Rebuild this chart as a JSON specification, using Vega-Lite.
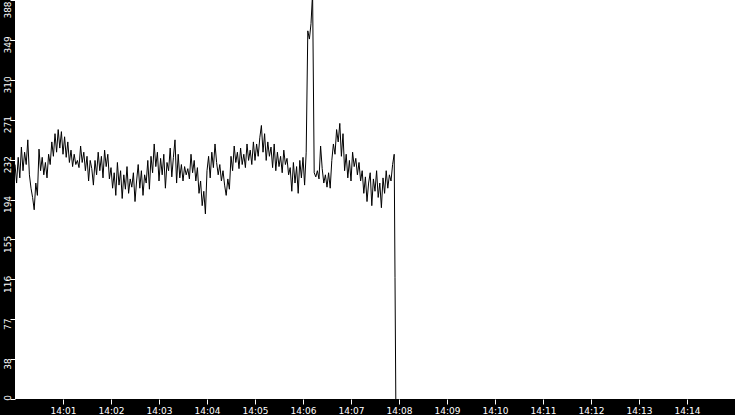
{
  "$schema": "https://vega.github.io/schema/vega-lite/v6.json",
  "width": 720,
  "height": 399,
  "autosize": {"type": "none"},
  "padding": {"left": 15, "top": 0, "right": 0, "bottom": 16},
  "background": "black",
  "config": {
    "view": {"fill": "white", "stroke": null},
    "axis": {
      "labelColor": "white",
      "tickColor": "white",
      "tickSize": 5,
      "tickWidth": 1,
      "domain": false,
      "grid": false,
      "labelFont": "DejaVu Sans",
      "labelFontSize": 9,
      "title": null
    }
  },
  "data": {
    "format": {"parse": {"t": "date:'%H:%M:%S'"}},
    "values": [
      {"t":"14:00:00","v":228},{"t":"14:00:02","v":210},{"t":"14:00:04","v":235},{"t":"14:00:06","v":215},{"t":"14:00:08","v":245},
      {"t":"14:00:10","v":222},{"t":"14:00:12","v":240},{"t":"14:00:14","v":228},{"t":"14:00:16","v":252},{"t":"14:00:18","v":218},
      {"t":"14:00:20","v":205},{"t":"14:00:22","v":196},{"t":"14:00:24","v":184},{"t":"14:00:26","v":210},{"t":"14:00:28","v":198},
      {"t":"14:00:30","v":243},{"t":"14:00:32","v":222},{"t":"14:00:34","v":235},{"t":"14:00:36","v":218},{"t":"14:00:38","v":230},
      {"t":"14:00:40","v":215},{"t":"14:00:42","v":238},{"t":"14:00:44","v":228},{"t":"14:00:46","v":250},{"t":"14:00:48","v":236},
      {"t":"14:00:50","v":258},{"t":"14:00:52","v":240},{"t":"14:00:54","v":262},{"t":"14:00:56","v":244},{"t":"14:00:58","v":260},
      {"t":"14:01:00","v":238},{"t":"14:01:02","v":255},{"t":"14:01:04","v":235},{"t":"14:01:06","v":250},{"t":"14:01:08","v":230},
      {"t":"14:01:10","v":242},{"t":"14:01:12","v":226},{"t":"14:01:14","v":238},{"t":"14:01:16","v":228},{"t":"14:01:18","v":232},
      {"t":"14:01:20","v":225},{"t":"14:01:22","v":246},{"t":"14:01:24","v":230},{"t":"14:01:26","v":240},{"t":"14:01:28","v":222},
      {"t":"14:01:30","v":236},{"t":"14:01:32","v":212},{"t":"14:01:34","v":232},{"t":"14:01:36","v":224},{"t":"14:01:38","v":208},
      {"t":"14:01:40","v":232},{"t":"14:01:42","v":218},{"t":"14:01:44","v":240},{"t":"14:01:46","v":222},{"t":"14:01:48","v":236},
      {"t":"14:01:50","v":215},{"t":"14:01:52","v":242},{"t":"14:01:54","v":226},{"t":"14:01:56","v":238},{"t":"14:01:58","v":214},
      {"t":"14:02:00","v":225},{"t":"14:02:02","v":205},{"t":"14:02:04","v":220},{"t":"14:02:06","v":198},{"t":"14:02:08","v":230},
      {"t":"14:02:10","v":208},{"t":"14:02:12","v":222},{"t":"14:02:14","v":195},{"t":"14:02:16","v":218},{"t":"14:02:18","v":204},
      {"t":"14:02:20","v":226},{"t":"14:02:22","v":200},{"t":"14:02:24","v":214},{"t":"14:02:26","v":206},{"t":"14:02:28","v":220},
      {"t":"14:02:30","v":192},{"t":"14:02:32","v":212},{"t":"14:02:34","v":228},{"t":"14:02:36","v":205},{"t":"14:02:38","v":222},
      {"t":"14:02:40","v":198},{"t":"14:02:42","v":218},{"t":"14:02:44","v":210},{"t":"14:02:46","v":232},{"t":"14:02:48","v":204},
      {"t":"14:02:50","v":236},{"t":"14:02:52","v":220},{"t":"14:02:54","v":248},{"t":"14:02:56","v":226},{"t":"14:02:58","v":240},
      {"t":"14:03:00","v":212},{"t":"14:03:02","v":234},{"t":"14:03:04","v":218},{"t":"14:03:06","v":238},{"t":"14:03:08","v":205},
      {"t":"14:03:10","v":230},{"t":"14:03:12","v":222},{"t":"14:03:14","v":244},{"t":"14:03:16","v":216},{"t":"14:03:18","v":235},
      {"t":"14:03:20","v":252},{"t":"14:03:22","v":210},{"t":"14:03:24","v":238},{"t":"14:03:26","v":215},{"t":"14:03:28","v":228},
      {"t":"14:03:30","v":212},{"t":"14:03:32","v":226},{"t":"14:03:34","v":218},{"t":"14:03:36","v":224},{"t":"14:03:38","v":214},
      {"t":"14:03:40","v":238},{"t":"14:03:42","v":220},{"t":"14:03:44","v":232},{"t":"14:03:46","v":212},{"t":"14:03:48","v":225},
      {"t":"14:03:50","v":200},{"t":"14:03:52","v":212},{"t":"14:03:54","v":188},{"t":"14:03:56","v":202},{"t":"14:03:58","v":180},
      {"t":"14:04:00","v":222},{"t":"14:04:02","v":236},{"t":"14:04:04","v":215},{"t":"14:04:06","v":240},{"t":"14:04:08","v":225},
      {"t":"14:04:10","v":248},{"t":"14:04:12","v":230},{"t":"14:04:14","v":218},{"t":"14:04:16","v":228},{"t":"14:04:18","v":212},
      {"t":"14:04:20","v":222},{"t":"14:04:22","v":208},{"t":"14:04:24","v":198},{"t":"14:04:26","v":214},{"t":"14:04:28","v":204},
      {"t":"14:04:30","v":236},{"t":"14:04:32","v":222},{"t":"14:04:34","v":246},{"t":"14:04:36","v":230},{"t":"14:04:38","v":240},
      {"t":"14:04:40","v":224},{"t":"14:04:42","v":244},{"t":"14:04:44","v":228},{"t":"14:04:46","v":238},{"t":"14:04:48","v":225},
      {"t":"14:04:50","v":248},{"t":"14:04:52","v":232},{"t":"14:04:54","v":242},{"t":"14:04:56","v":228},{"t":"14:04:58","v":250},
      {"t":"14:05:00","v":232},{"t":"14:05:02","v":248},{"t":"14:05:04","v":236},{"t":"14:05:06","v":254},{"t":"14:05:08","v":266},
      {"t":"14:05:10","v":240},{"t":"14:05:12","v":258},{"t":"14:05:14","v":232},{"t":"14:05:16","v":250},{"t":"14:05:18","v":236},
      {"t":"14:05:20","v":245},{"t":"14:05:22","v":225},{"t":"14:05:24","v":248},{"t":"14:05:26","v":222},{"t":"14:05:28","v":240},
      {"t":"14:05:30","v":226},{"t":"14:05:32","v":236},{"t":"14:05:34","v":220},{"t":"14:05:36","v":242},{"t":"14:05:38","v":228},
      {"t":"14:05:40","v":234},{"t":"14:05:42","v":218},{"t":"14:05:44","v":225},{"t":"14:05:46","v":202},{"t":"14:05:48","v":230},
      {"t":"14:05:50","v":210},{"t":"14:05:52","v":226},{"t":"14:05:54","v":200},{"t":"14:05:56","v":232},{"t":"14:05:58","v":215},
      {"t":"14:06:00","v":235},{"t":"14:06:02","v":208},{"t":"14:06:04","v":240},{"t":"14:06:06","v":358},{"t":"14:06:08","v":350},
      {"t":"14:06:10","v":365},{"t":"14:06:12","v":395},{"t":"14:06:14","v":220},{"t":"14:06:16","v":216},{"t":"14:06:18","v":222},
      {"t":"14:06:20","v":214},{"t":"14:06:22","v":246},{"t":"14:06:24","v":224},{"t":"14:06:26","v":210},{"t":"14:06:28","v":218},
      {"t":"14:06:30","v":206},{"t":"14:06:32","v":220},{"t":"14:06:34","v":205},{"t":"14:06:36","v":232},{"t":"14:06:38","v":248},
      {"t":"14:06:40","v":238},{"t":"14:06:42","v":262},{"t":"14:06:44","v":250},{"t":"14:06:46","v":268},{"t":"14:06:48","v":236},
      {"t":"14:06:50","v":258},{"t":"14:06:52","v":222},{"t":"14:06:54","v":238},{"t":"14:06:56","v":215},{"t":"14:06:58","v":232},
      {"t":"14:07:00","v":212},{"t":"14:07:02","v":240},{"t":"14:07:04","v":226},{"t":"14:07:06","v":234},{"t":"14:07:08","v":218},
      {"t":"14:07:10","v":230},{"t":"14:07:12","v":212},{"t":"14:07:14","v":222},{"t":"14:07:16","v":200},{"t":"14:07:18","v":216},
      {"t":"14:07:20","v":192},{"t":"14:07:22","v":210},{"t":"14:07:24","v":220},{"t":"14:07:26","v":188},{"t":"14:07:28","v":214},
      {"t":"14:07:30","v":202},{"t":"14:07:32","v":222},{"t":"14:07:34","v":196},{"t":"14:07:36","v":210},{"t":"14:07:38","v":186},
      {"t":"14:07:40","v":215},{"t":"14:07:42","v":200},{"t":"14:07:44","v":222},{"t":"14:07:46","v":205},{"t":"14:07:48","v":218},
      {"t":"14:07:50","v":212},{"t":"14:07:52","v":228},{"t":"14:07:54","v":238},{"t":"14:07:55","v":118},{"t":"14:07:56","v":0}
    ]
  },
  "mark": {"type": "line", "color": "black", "strokeWidth": 1, "clip": true, "interpolate": "linear"},
  "encoding": {
    "x": {
      "field": "t",
      "type": "temporal",
      "scale": {
        "domain": [
          {"year": 1900, "month": 1, "date": 1, "hours": 14, "minutes": 0},
          {"year": 1900, "month": 1, "date": 1, "hours": 14, "minutes": 15}
        ],
        "nice": false
      },
      "axis": {
        "format": "%H:%M",
        "labelPadding": 2,
        "values": [
          {"year": 1900, "month": 1, "date": 1, "hours": 14, "minutes": 1},
          {"year": 1900, "month": 1, "date": 1, "hours": 14, "minutes": 2},
          {"year": 1900, "month": 1, "date": 1, "hours": 14, "minutes": 3},
          {"year": 1900, "month": 1, "date": 1, "hours": 14, "minutes": 4},
          {"year": 1900, "month": 1, "date": 1, "hours": 14, "minutes": 5},
          {"year": 1900, "month": 1, "date": 1, "hours": 14, "minutes": 6},
          {"year": 1900, "month": 1, "date": 1, "hours": 14, "minutes": 7},
          {"year": 1900, "month": 1, "date": 1, "hours": 14, "minutes": 8},
          {"year": 1900, "month": 1, "date": 1, "hours": 14, "minutes": 9},
          {"year": 1900, "month": 1, "date": 1, "hours": 14, "minutes": 10},
          {"year": 1900, "month": 1, "date": 1, "hours": 14, "minutes": 11},
          {"year": 1900, "month": 1, "date": 1, "hours": 14, "minutes": 12},
          {"year": 1900, "month": 1, "date": 1, "hours": 14, "minutes": 13},
          {"year": 1900, "month": 1, "date": 1, "hours": 14, "minutes": 14}
        ]
      }
    },
    "y": {
      "field": "v",
      "type": "quantitative",
      "scale": {"domain": [0, 388], "nice": false, "zero": true},
      "axis": {
        "values": [0, 38.8, 77.6, 116.4, 155.2, 194, 232.8, 271.6, 310.4, 349.2, 388],
        "labelExpr": "floor(datum.value)",
        "labelAngle": -90,
        "labelAlign": "center",
        "labelBaseline": "alphabetic",
        "labelPadding": 0,
        "labelOffset": {
          "condition": [
            {"test": "datum.value >= 388", "value": 9.5},
            {"test": "datum.value <= 0", "value": -1.5}
          ],
          "value": 4.5
        }
      }
    }
  }
}
